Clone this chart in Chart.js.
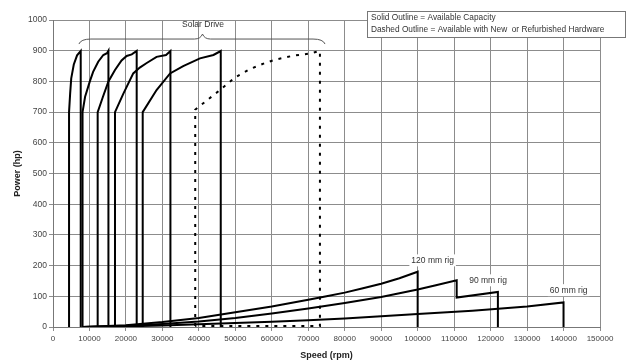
<!DOCTYPE html>
<html>
<head>
<meta charset="utf-8">
<script src="https://cdn.jsdelivr.net/npm/chart.js@4.4.0/dist/chart.umd.min.js"></script>
<style>
  html, body { margin: 0; padding: 0; background: #fff; }
  #wrap { width: 630px; height: 364px; }
</style>
</head>
<body>
<div id="wrap"><canvas id="chart" width="630" height="364"></canvas></div>
<script>
// ===== Solar drive outlines: [rpm, hp] =====
const solar1 = [[4400, 0], [4400, 700], [4700, 760], [5000, 810], [5700, 855], [6600, 885], [7600, 899], [7600, 0]];
const solar2 = [[8100, 0], [8100, 700], [8800, 750], [10100, 800], [11000, 831], [12400, 864], [13800, 886], [14800, 892], [15200, 900], [15200, 0]];
const solar3 = [[12250, 0], [12250, 700], [13700, 750], [15200, 800], [17000, 837], [18800, 868], [20200, 883], [21600, 888], [22950, 899], [22950, 0]];
const solar4 = [[17000, 0], [17000, 700], [19300, 760], [22000, 826], [23800, 845], [25700, 860], [28400, 880], [31000, 886], [32200, 899], [32200, 0]];
const solar5 = [[24600, 0], [24600, 700], [28400, 772], [32100, 826], [35700, 850], [40300, 875], [44000, 886], [46000, 899], [46000, 0]];
const solarNew = [[39000, 3], [39000, 708], [45800, 772], [49900, 813], [54000, 840], [58600, 862], [61400, 872], [66000, 884], [70500, 891], [73200, 899], [73200, 3], [39000, 3]];

// ===== Rig outlines: [rpm, hp] =====
const rig120 = [[8000, 0], [20000, 6], [30000, 16], [40000, 29], [50000, 48], [60000, 67], [70000, 89], [75000, 100], [80000, 112], [85000, 126], [90000, 141], [95000, 159], [100000, 180], [100000, 0]];
const rig90 = [[8000, 0], [20000, 4], [30000, 10], [40000, 18], [50000, 29], [60000, 44], [70000, 60], [80000, 78], [85000, 88], [90000, 98], [95000, 110], [100000, 122], [105000, 136], [110700, 152], [110700, 96], [122000, 114], [122000, 0]];
const rig60 = [[8000, 0], [20000, 2], [30000, 5], [40000, 9], [50000, 13], [60000, 17], [70000, 22], [80000, 28], [90000, 35], [100000, 42], [115000, 53], [130000, 67], [140000, 80], [140000, 0]];

// ===== Labels =====
const rigLabels = ['120 mm rig', '90 mm rig', '60 mm rig'];
const rigLabelAt = [[104100, 217], [119300, 152], [141400, 120]];
const legendLines = ['Solid Outline = Available Capacity', 'Dashed Outline = Available with New  or Refurbished Hardware'];

const toXY = pts => pts.map(([x, y]) => ({ x, y }));
const solid = pts => ({ data: toXY(pts), borderColor: '#000', borderWidth: 2, showLine: true, pointRadius: 0, fill: false });

const annotate = {
  id: 'annotate',
  afterDatasetsDraw(chart) {
    const { ctx, scales: { x, y } } = chart;
    ctx.save();

    // Solar Drive brace
    const x1 = x.getPixelForValue(7100), x2 = x.getPixelForValue(74600), xm = x.getPixelForValue(41000);
    const yb = y.getPixelForValue(938);
    ctx.strokeStyle = '#555';
    ctx.lineWidth = 1;
    ctx.beginPath();
    ctx.moveTo(x1, yb + 5);
    ctx.quadraticCurveTo(x1 + 2, yb, x1 + 12, yb);
    ctx.lineTo(xm - 8, yb);
    ctx.quadraticCurveTo(xm - 2, yb, xm, yb - 5);
    ctx.quadraticCurveTo(xm + 2, yb, xm + 8, yb);
    ctx.lineTo(x2 - 12, yb);
    ctx.quadraticCurveTo(x2 - 2, yb, x2, yb + 5);
    ctx.stroke();

    ctx.fillStyle = '#333';
    ctx.font = '8.5px "Liberation Sans", Arial, sans-serif';
    ctx.textAlign = 'center';
    ctx.textBaseline = 'middle';
    ctx.fillText('Solar Drive', x.getPixelForValue(41150), y.getPixelForValue(985));

    // rig labels on white boxes
    rigLabels.forEach((t, i) => {
      const px = x.getPixelForValue(rigLabelAt[i][0]);
      const py = y.getPixelForValue(rigLabelAt[i][1]);
      const w = ctx.measureText(t).width;
      ctx.fillStyle = '#fff';
      ctx.fillRect(px - w / 2 - 2, py - 6, w + 4, 12);
      ctx.fillStyle = '#333';
      ctx.fillText(t, px, py);
    });

    // legend box
    ctx.fillStyle = '#fff';
    ctx.fillRect(367.5, 11.5, 258, 26);
    ctx.strokeStyle = '#777';
    ctx.strokeRect(367.5, 11.5, 258, 26);
    ctx.fillStyle = '#333';
    ctx.font = '8.3px "Liberation Sans", Arial, sans-serif';
    ctx.textAlign = 'left';
    ctx.fillText(legendLines[0], 371, 17.5);
    ctx.fillText(legendLines[1], 371, 29.5);
    ctx.restore();
  }
};

new Chart(document.getElementById('chart'), {
  type: 'scatter',
  data: {
    datasets: [
      solid(solar1), solid(solar2), solid(solar3), solid(solar4), solid(solar5),
      { data: toXY(solarNew), borderColor: '#000', borderWidth: 2, borderDash: [3, 6], showLine: true, pointRadius: 0, fill: false },
      solid(rig120), solid(rig90), solid(rig60)
    ]
  },
  options: {
    responsive: false,
    animation: false,
    devicePixelRatio: 1,
    layout: { padding: { left: 0, right: 30, top: 20, bottom: 0 } },
    plugins: { legend: { display: false }, tooltip: { enabled: false } },
    scales: {
      x: {
        type: 'linear', min: 0, max: 150000,
        afterFit: s => { s.height = 37; },
        ticks: { stepSize: 10000, color: '#444', font: { family: '"Liberation Sans", Arial', size: 8 }, padding: 3, maxRotation: 0, autoSkip: false, callback: v => String(v) },
        grid: { color: '#8c8c8c', lineWidth: 1, tickLength: 4 },
        border: { color: '#777' },
        title: { display: true, text: 'Speed (rpm)', color: '#222', font: { family: '"Liberation Sans", Arial', size: 9, weight: 'bold' }, padding: { top: 0, bottom: 3 } }
      },
      y: {
        min: 0, max: 1000,
        afterFit: s => { s.width = 53; },
        ticks: { stepSize: 100, color: '#444', font: { family: '"Liberation Sans", Arial', size: 8.5 }, padding: 2, autoSkip: false, callback: v => String(v) },
        grid: { color: '#8c8c8c', lineWidth: 1, tickLength: 4 },
        border: { color: '#777' },
        title: { display: true, text: 'Power (hp)', color: '#222', font: { family: '"Liberation Sans", Arial', size: 9, weight: 'bold' }, padding: { top: 12, bottom: 0 } }
      }
    }
  },
  plugins: [annotate]
});
</script>
</body>
</html>
